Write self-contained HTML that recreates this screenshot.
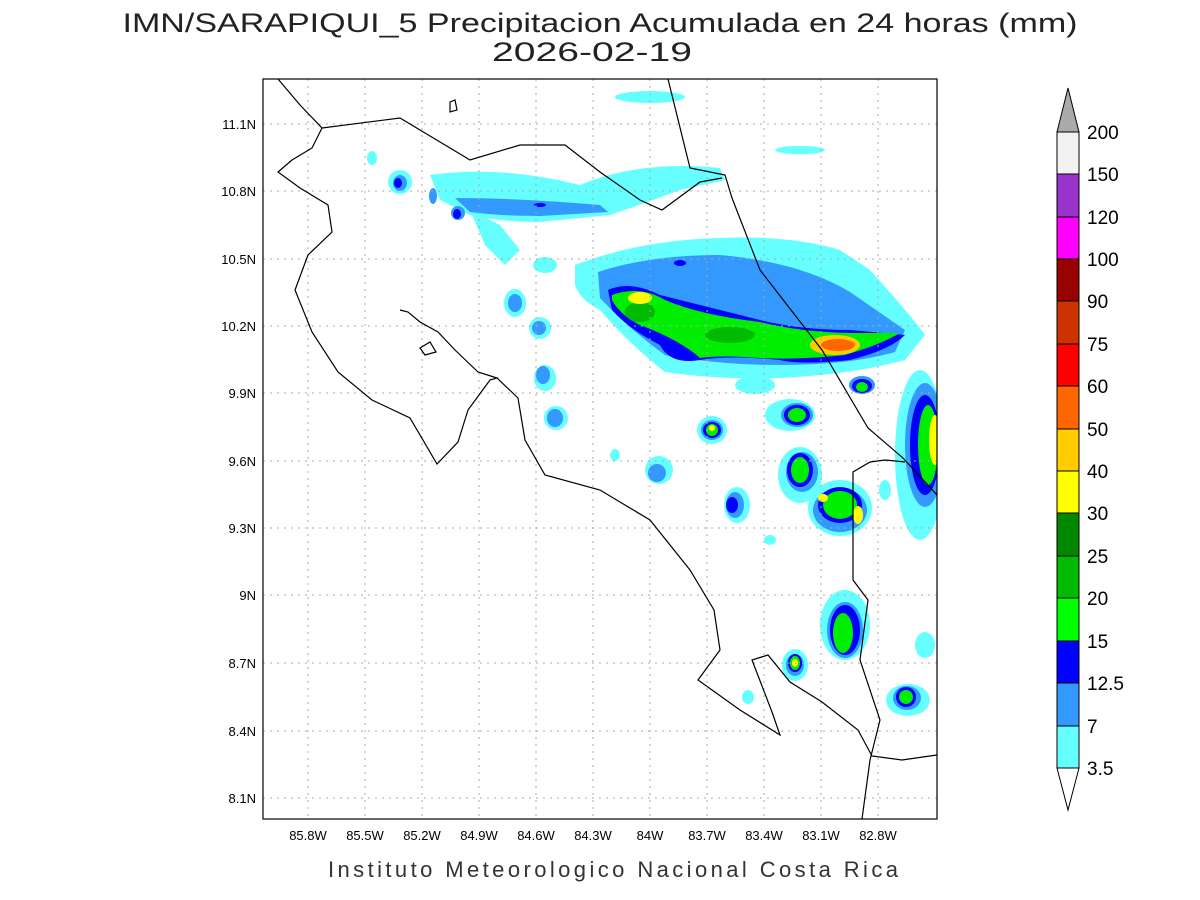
<!DOCTYPE html>
<html><head><meta charset="utf-8"><style>
body{margin:0;background:#fff;}
svg{display:block;font-family:"Liberation Sans",sans-serif;}
</style></head><body>
<svg width="1200" height="900" viewBox="0 0 1200 900" xmlns="http://www.w3.org/2000/svg">
<rect width="1200" height="900" fill="#fff"/>
<text x="600" y="32" font-size="27" text-anchor="middle" fill="#222" textLength="955" lengthAdjust="spacingAndGlyphs">IMN/SARAPIQUI_5 Precipitacion Acumulada en 24 horas (mm)</text>
<text x="592" y="61" font-size="27" text-anchor="middle" fill="#222" textLength="200" lengthAdjust="spacingAndGlyphs">2026-02-19</text>
<clipPath id="c"><rect x="263" y="79" width="674" height="740"/></clipPath>
<g clip-path="url(#c)">
<!-- cyan -->
<g fill="#66ffff">
<path d="M430 175 Q500 165 580 185 Q640 160 720 168 L725 180 L680 190 Q640 205 610 215 L540 222 Q500 222 470 215 L440 200 Z"/>
<path d="M470 210 L500 225 L520 250 L505 265 L485 245 Z"/>
<path d="M575 265 Q640 240 720 238 Q790 235 840 250 L870 270 Q915 320 925 335 L905 360 Q850 375 780 378 Q720 380 665 372 Q630 345 600 310 Q580 300 575 285 Z"/>
<ellipse cx="650" cy="97" rx="35" ry="6"/>
<ellipse cx="800" cy="150" rx="25" ry="4"/>
<ellipse cx="400" cy="182" rx="12" ry="12"/>
<ellipse cx="372" cy="158" rx="5" ry="7"/>
<ellipse cx="545" cy="265" rx="12" ry="8"/>
<ellipse cx="515" cy="303" rx="11" ry="14"/>
<ellipse cx="540" cy="328" rx="11" ry="11"/>
<ellipse cx="545" cy="378" rx="11" ry="13"/>
<ellipse cx="556" cy="418" rx="12" ry="12"/>
<ellipse cx="659" cy="470" rx="14" ry="14"/>
<ellipse cx="712" cy="430" rx="15" ry="14"/>
<ellipse cx="790" cy="415" rx="25" ry="16"/>
<ellipse cx="800" cy="475" rx="22" ry="28"/>
<ellipse cx="840" cy="508" rx="32" ry="28"/>
<ellipse cx="737" cy="505" rx="13" ry="18"/>
<ellipse cx="920" cy="455" rx="25" ry="85"/>
<ellipse cx="845" cy="625" rx="25" ry="35"/>
<ellipse cx="795" cy="665" rx="13" ry="16"/>
<ellipse cx="908" cy="700" rx="22" ry="16"/>
<ellipse cx="925" cy="645" rx="10" ry="13"/>
<ellipse cx="748" cy="697" rx="6" ry="7"/>
<ellipse cx="755" cy="385" rx="20" ry="9"/>
<ellipse cx="615" cy="455" rx="5" ry="6"/>
<ellipse cx="770" cy="540" rx="6" ry="5"/>
<ellipse cx="885" cy="490" rx="6" ry="10"/>
</g>
<!-- light blue -->
<g fill="#3399ff">
<path d="M455 198 Q520 198 600 205 L608 212 L540 216 Q500 216 470 212 Z"/>
<path d="M598 272 Q650 255 720 255 Q800 262 850 292 L905 330 L895 352 Q850 365 780 365 Q720 365 665 355 Q630 330 600 298 Z"/>
<ellipse cx="400" cy="183" rx="7" ry="8"/>
<ellipse cx="433" cy="196" rx="4" ry="8"/>
<ellipse cx="458" cy="213" rx="7" ry="7"/>
<ellipse cx="515" cy="303" rx="7" ry="9"/>
<ellipse cx="539" cy="328" rx="7" ry="7"/>
<ellipse cx="543" cy="375" rx="7" ry="9"/>
<ellipse cx="555" cy="418" rx="8" ry="9"/>
<ellipse cx="657" cy="473" rx="9" ry="9"/>
<ellipse cx="712" cy="430" rx="11" ry="10"/>
<ellipse cx="797" cy="415" rx="16" ry="12"/>
<ellipse cx="802" cy="472" rx="16" ry="20"/>
<ellipse cx="840" cy="510" rx="27" ry="22"/>
<ellipse cx="735" cy="505" rx="9" ry="13"/>
<ellipse cx="925" cy="445" rx="20" ry="62"/>
<ellipse cx="845" cy="630" rx="18" ry="28"/>
<ellipse cx="795" cy="665" rx="9" ry="11"/>
<ellipse cx="907" cy="698" rx="14" ry="12"/>
<ellipse cx="862" cy="385" rx="13" ry="9"/>
</g>
<!-- blue -->
<g fill="#0000ff">
<path d="M608 290 Q630 280 660 295 Q700 305 760 320 Q800 330 850 330 L905 335 Q890 350 850 360 Q800 365 780 360 Q730 355 700 360 Q670 365 660 345 Q630 330 612 310 Z"/>
<ellipse cx="712" cy="430" rx="9" ry="8"/><ellipse cx="797" cy="415" rx="13" ry="10"/>
<ellipse cx="800" cy="470" rx="13" ry="17"/><ellipse cx="840" cy="505" rx="22" ry="18"/>
<ellipse cx="925" cy="445" rx="15" ry="50"/><ellipse cx="845" cy="630" rx="15" ry="25"/>
<ellipse cx="795" cy="663" rx="7" ry="9"/><ellipse cx="906" cy="697" rx="10" ry="10"/>
<ellipse cx="732" cy="505" rx="6" ry="8"/><ellipse cx="862" cy="386" rx="10" ry="7"/>
<ellipse cx="398" cy="183" rx="4" ry="5"/><ellipse cx="457" cy="214" rx="4" ry="5"/>
<ellipse cx="540" cy="205" rx="6" ry="2"/><ellipse cx="680" cy="263" rx="6" ry="3"/>
</g>
<!-- green -->
<g fill="#00ee00">
<path d="M612 295 Q640 285 665 300 Q700 315 760 322 Q800 332 850 333 L900 333 Q880 345 845 355 Q800 360 760 358 Q720 355 700 358 Q680 340 640 325 Q620 315 612 300 Z"/>
<ellipse cx="712" cy="430" rx="6" ry="6"/><ellipse cx="797" cy="415" rx="9" ry="7"/>
<ellipse cx="800" cy="470" rx="9" ry="13"/><ellipse cx="840" cy="505" rx="17" ry="14"/>
<ellipse cx="928" cy="445" rx="10" ry="40"/><ellipse cx="843" cy="633" rx="10" ry="20"/>
<ellipse cx="795" cy="663" rx="5" ry="7"/><ellipse cx="906" cy="697" rx="7" ry="7"/>
<ellipse cx="862" cy="387" rx="6" ry="5"/>
</g>
<g fill="#00bb00"><ellipse cx="640" cy="312" rx="15" ry="10"/><ellipse cx="730" cy="335" rx="25" ry="8"/></g>
<g fill="#ffff00">
<ellipse cx="640" cy="298" rx="12" ry="6"/><ellipse cx="712" cy="428" rx="3" ry="3"/>
<ellipse cx="935" cy="440" rx="6" ry="25"/><ellipse cx="858" cy="515" rx="5" ry="9"/>
<ellipse cx="823" cy="498" rx="5" ry="4"/><ellipse cx="795" cy="663" rx="3" ry="4"/>
</g>
<ellipse cx="835" cy="345" rx="25" ry="10" fill="#ffcc00"/>
<ellipse cx="838" cy="345" rx="17" ry="6" fill="#ff6600"/>
</g>
<!-- grid -->
<g stroke="#aaa" stroke-width="1" stroke-dasharray="2,5">
<line x1="308" y1="79" x2="308" y2="819"/><line x1="365" y1="79" x2="365" y2="819"/><line x1="422" y1="79" x2="422" y2="819"/><line x1="479" y1="79" x2="479" y2="819"/><line x1="536" y1="79" x2="536" y2="819"/><line x1="593" y1="79" x2="593" y2="819"/><line x1="650" y1="79" x2="650" y2="819"/><line x1="707" y1="79" x2="707" y2="819"/><line x1="764" y1="79" x2="764" y2="819"/><line x1="821" y1="79" x2="821" y2="819"/><line x1="878" y1="79" x2="878" y2="819"/>
<line x1="263" y1="124" x2="937" y2="124"/><line x1="263" y1="191" x2="937" y2="191"/><line x1="263" y1="259" x2="937" y2="259"/><line x1="263" y1="326" x2="937" y2="326"/><line x1="263" y1="393" x2="937" y2="393"/><line x1="263" y1="461" x2="937" y2="461"/><line x1="263" y1="528" x2="937" y2="528"/><line x1="263" y1="595" x2="937" y2="595"/><line x1="263" y1="663" x2="937" y2="663"/><line x1="263" y1="731" x2="937" y2="731"/><line x1="263" y1="798" x2="937" y2="798"/>
</g>
<!-- coast -->
<g clip-path="url(#c)" fill="none" stroke="#000" stroke-width="1.2">
<polyline points="278,79 300,105 322,128 312,148 292,160 278,172 300,188 328,205 332,232 308,255 295,290 312,332 338,372 372,400 410,418 437,464 458,442 468,410 490,380 497,378 478,372 455,350 438,332 420,322 408,312 400,310"/>
<polyline points="497,378 518,398 525,440 545,475 600,490 650,520 690,570 714,610 720,650 698,680 740,710 780,735 772,712 752,660 768,655 790,682 822,702 858,730 872,756 902,760 937,755"/>
<polyline points="322,128 400,118 470,160 520,145 565,145 600,172 640,200 662,210 700,182 722,178"/>
<polyline points="668,79 690,168 725,175 732,198 760,270 822,350 868,428 903,458 937,495"/>
<polyline points="905,462 885,460 870,462 853,472 853,580 868,600 860,660 880,720 870,760 862,819"/>
<polygon points="420,348 430,342 436,352 425,355"/>
<polygon points="450,102 455,100 457,110 450,112"/>
</g>
<rect x="263" y="79" width="674" height="740" fill="none" stroke="#000" stroke-width="1.2"/>
<g font-size="13" fill="#000">
<g text-anchor="end"><text x="256" y="129">11.1N</text><text x="256" y="196">10.8N</text><text x="256" y="264">10.5N</text><text x="256" y="331">10.2N</text><text x="256" y="398">9.9N</text><text x="256" y="466">9.6N</text><text x="256" y="533">9.3N</text><text x="256" y="600">9N</text><text x="256" y="668">8.7N</text><text x="256" y="736">8.4N</text><text x="256" y="803">8.1N</text></g>
<g text-anchor="middle"><text x="308" y="840">85.8W</text><text x="365" y="840">85.5W</text><text x="422" y="840">85.2W</text><text x="479" y="840">84.9W</text><text x="536" y="840">84.6W</text><text x="593" y="840">84.3W</text><text x="650" y="840">84W</text><text x="707" y="840">83.7W</text><text x="764" y="840">83.4W</text><text x="821" y="840">83.1W</text><text x="878" y="840">82.8W</text></g>
</g>
<text x="613" y="877" font-size="22" text-anchor="middle" fill="#333" textLength="570" lengthAdjust="spacing">Instituto Meteorologico Nacional Costa Rica</text>
<!-- colorbar -->
<g stroke="#000" stroke-width="1">
<polygon points="1057,132 1079,132 1068,88" fill="#aaaaaa"/>
<rect x="1057" y="132" width="22" height="42" fill="#f2f2f2"/>
<rect x="1057" y="174" width="22" height="43" fill="#9933cc"/>
<rect x="1057" y="217" width="22" height="42" fill="#ff00ff"/>
<rect x="1057" y="259" width="22" height="42" fill="#990000"/>
<rect x="1057" y="301" width="22" height="43" fill="#cc3300"/>
<rect x="1057" y="344" width="22" height="42" fill="#ff0000"/>
<rect x="1057" y="386" width="22" height="43" fill="#ff6600"/>
<rect x="1057" y="429" width="22" height="42" fill="#ffcc00"/>
<rect x="1057" y="471" width="22" height="42" fill="#ffff00"/>
<rect x="1057" y="513" width="22" height="43" fill="#008800"/>
<rect x="1057" y="556" width="22" height="42" fill="#00bb00"/>
<rect x="1057" y="598" width="22" height="43" fill="#00ff00"/>
<rect x="1057" y="641" width="22" height="42" fill="#0000ff"/>
<rect x="1057" y="683" width="22" height="43" fill="#3399ff"/>
<rect x="1057" y="726" width="22" height="42" fill="#66ffff"/>
<polygon points="1057,768 1079,768 1068,810" fill="#fff"/>
</g>
<g font-size="19" fill="#000">
<text x="1087" y="139">200</text><text x="1087" y="181">150</text><text x="1087" y="224">120</text><text x="1087" y="266">100</text><text x="1087" y="308">90</text><text x="1087" y="351">75</text><text x="1087" y="393">60</text><text x="1087" y="436">50</text><text x="1087" y="478">40</text><text x="1087" y="520">30</text><text x="1087" y="563">25</text><text x="1087" y="605">20</text><text x="1087" y="648">15</text><text x="1087" y="690">12.5</text><text x="1087" y="733">7</text><text x="1087" y="775">3.5</text>
</g>
</svg>
</body></html>
